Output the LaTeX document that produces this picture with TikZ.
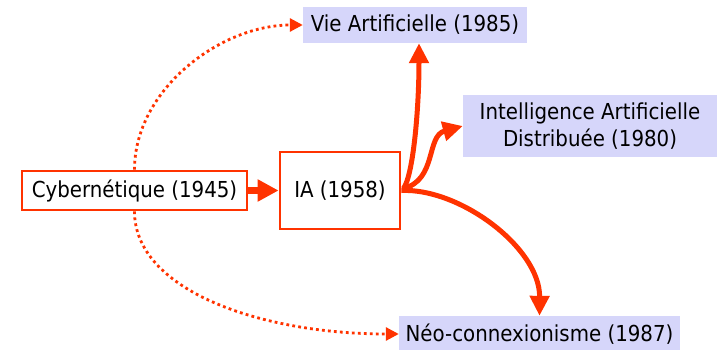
\documentclass[tikz,border=0pt]{standalone}
\usepackage{fontspec}
\setmainfont{DejaVu Sans Condensed}
\usetikzlibrary{arrows.meta,calc}
\definecolor{linkred}{RGB}{255,51,0}
\definecolor{lavender}{RGB}{214,214,250}
\tikzset{
  redbox/.style={draw=linkred, line width=2.8pt, fill=white, inner sep=0pt, align=center},
  lavbox/.style={fill=lavender, draw=none, inner sep=0pt, align=center},
  boldlink/.style={draw=linkred, line width=5pt, -{Triangle[length=20pt,width=19pt]}},
  dotlink/.style={draw=linkred, line width=2.8pt, dash pattern=on 2.8pt off 3.2pt,
    -{Triangle[length=13pt,width=13pt]}}
}
\begin{document}
\begin{tikzpicture}[x=1pt,y=-1pt,font=\fontsize{22}{27}\selectfont]
\useasboundingbox (0,0) rectangle (717,350);

% boxes
\node[redbox, minimum width=225pt, minimum height=39pt] (cyb) at (134.5,190.5) {Cybernétique (1945)};
\node[redbox, minimum width=120pt, minimum height=77pt] (ia) at (340,190.5) {IA (1958)};
\node[lavbox, minimum width=224pt, minimum height=36pt] (vie) at (415,25) {Vie Artificielle (1985)};
\node[lavbox, minimum width=254pt, minimum height=62pt] (iad) at (590,126) {Intelligence Artificielle\\Distribuée (1980)};
\node[lavbox, minimum width=281pt, minimum height=36pt] (neo) at (539.5,334) {Néo-connexionisme (1987)};

% heavy links
\draw[boldlink, line width=7pt, -{Triangle[length=21pt,width=21pt]}] (cyb.east) -- (ia.west);
\coordinate (iaout) at ($(ia.east)+(2,-2)$);
\draw[boldlink] (iaout) .. controls (413,176) and (419,110) .. ($(vie.south)+(4,0)$);
\draw[boldlink] (iaout) .. controls (437,180) and (426,136) .. (iad.west);
\draw[boldlink] (ia.east) .. controls (460,188) and (540,248) .. (neo.north);

% dotted links
\draw[dotlink] (cyb.north) .. controls (134.5,90) and (220,25) .. (vie.west);
\draw[dotlink] (cyb.south) .. controls (134.5,290) and (260,334) .. (neo.west);
\end{tikzpicture}
\end{document}
